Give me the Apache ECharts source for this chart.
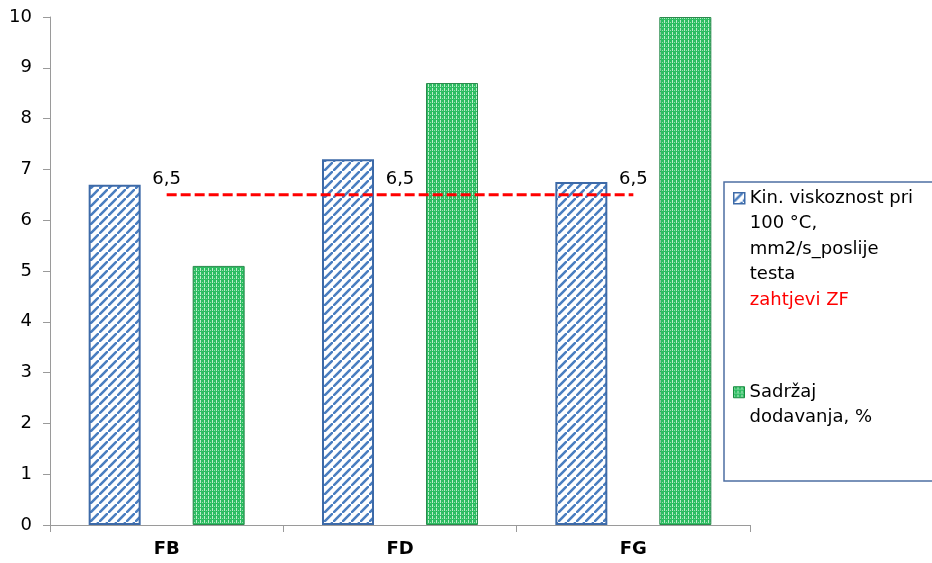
<!DOCTYPE html>
<html>
<head>
<meta charset="utf-8">
<script src="https://cdn.jsdelivr.net/npm/echarts@6/dist/echarts.min.js"></script>
<style>
html,body{margin:0;padding:0;background:#fff;}
#chart{width:932px;height:563px;}
</style>
</head>
<body>
<div id="chart"></div>
<script>
const categories = ['FB', 'FD', 'FG'];
const viscosity = [6.7, 7.2, 6.75];
const additive = [5.1, 8.7, 10.0];
const requirement = [6.5, 6.5, 6.5];
const yTicks = [0, 1, 2, 3, 4, 5, 6, 7, 8, 9, 10];

const nameVisc = 'Kin. viskoznost pri 100 °C, mm2/s_poslije testa';
const nameReq = 'zahtjevi ZF';
const nameAdd = 'Sadržaj dodavanja, %';

function stripePattern() {
  const s = 9;
  const c = document.createElement('canvas');
  c.width = s; c.height = s;
  const g = c.getContext('2d');
  g.fillStyle = '#ffffff';
  g.fillRect(0, 0, s, s);
  g.strokeStyle = '#4a7ec0';
  g.lineWidth = 2.6;
  g.beginPath();
  g.moveTo(-2, s + 2); g.lineTo(s + 2, -2);
  g.moveTo(-s - 2, 2); g.lineTo(2, -s - 2);
  g.moveTo(s - 2, 2 * s + 2); g.lineTo(2 * s + 2, s - 2);
  g.stroke();
  return c;
}
function dotPattern() {
  const c = document.createElement('canvas');
  c.width = 4; c.height = 4;
  const g = c.getContext('2d');
  g.fillStyle = '#2dbd62';
  g.fillRect(0, 0, 4, 4);
  g.fillStyle = '#bdeecd';
  g.fillRect(0, 0, 1, 3);
  g.fillStyle = '#98dfb0';
  g.fillRect(2, 2, 1, 1);
  return c;
}
const bluePat = { image: stripePattern(), repeat: 'repeat' };
const greenPat = { image: dotPattern(), repeat: 'repeat' };

const FONT = 'DejaVu Sans';
const chart = echarts.init(document.getElementById('chart'));
chart.setOption({
  animation: false,
  backgroundColor: '#ffffff',
  textStyle: { fontFamily: FONT },
  grid: { left: 50, right: 182, top: 17, bottom: 38, containLabel: false },
  xAxis: {
    type: 'category',
    data: categories,
    axisLine: { lineStyle: { color: '#9a9a9a', width: 1 } },
    axisTick: { show: true, length: 7, lineStyle: { color: '#9a9a9a' } },
    axisLabel: { fontFamily: FONT, fontSize: 18, fontWeight: 'bold', color: '#000', margin: 15 }
  },
  yAxis: {
    type: 'value',
    min: yTicks[0],
    max: yTicks[yTicks.length - 1],
    interval: 1,
    splitLine: { show: false },
    axisLine: { show: true, lineStyle: { color: '#9a9a9a', width: 1 } },
    axisTick: { show: true, length: 7, lineStyle: { color: '#9a9a9a' } },
    axisLabel: { fontFamily: FONT, fontSize: 18, color: '#000', margin: 18 }
  },
  legend: [
    {
      orient: 'vertical',
      left: 733,
      top: 109,
      padding: 0,
      itemGap: 0,
      itemWidth: 11,
      itemHeight: 11,
      selectedMode: false,
      textStyle: { fontFamily: FONT, fontSize: 18, color: '#000', lineHeight: 25.5 },
      formatter: function (n) {
        if (n === nameVisc) return '\n\n\nKin. viskoznost pri\n100 °C,\nmm2/s_poslije\ntesta';
        return n;
      },
      data: [
        { name: nameVisc, icon: 'rect', itemStyle: { color: bluePat, borderColor: '#3d6aa8', borderWidth: 1.5 } },
        { name: nameReq, icon: 'rect', itemStyle: { color: 'rgba(0,0,0,0)', borderWidth: 0 }, textStyle: { color: '#ff0000' } }
      ]
    },
    {
      orient: 'vertical',
      left: 733,
      top: 354,
      padding: 0,
      itemGap: 0,
      itemWidth: 11,
      itemHeight: 11,
      selectedMode: false,
      textStyle: { fontFamily: FONT, fontSize: 18, color: '#000', lineHeight: 25.5 },
      formatter: function (n) {
        return n === nameAdd ? '\nSadržaj\ndodavanja, %' : n;
      },
      data: [
        { name: nameAdd, icon: 'rect', itemStyle: { color: greenPat, borderColor: '#178a3e', borderWidth: 1 } }
      ]
    }
  ],
  graphic: [
    {
      type: 'rect',
      shape: { x: 724, y: 182, width: 220, height: 299 },
      style: { fill: 'none', stroke: '#4e6fa3', lineWidth: 1.5 },
      silent: true,
      z: 0
    }
  ],
  series: [
    {
      name: nameVisc,
      type: 'bar',
      data: viscosity,
      barWidth: 52,
      barGap: '100%',
      itemStyle: { color: bluePat, borderColor: '#3d6aa8', borderWidth: 2 }
    },
    {
      name: nameAdd,
      type: 'bar',
      data: additive,
      barWidth: 52,
      barGap: '100%',
      itemStyle: { color: greenPat, borderColor: '#2a8a4c', borderWidth: 1 }
    },
    {
      name: nameReq,
      type: 'line',
      data: requirement,
      symbol: 'circle',
      symbolSize: 1,
      showSymbol: true,
      z: 5,
      lineStyle: { color: '#ff0000', width: 3, type: [10, 4] },
      itemStyle: { color: 'rgba(255,0,0,0)' },
      label: {
        show: true,
        position: 'top',
        distance: 6,
        fontFamily: FONT,
        fontSize: 18,
        color: '#000',
        formatter: function (p) { return String(p.value).replace('.', ','); }
      }
    }
  ]
});
</script>
</body>
</html>
